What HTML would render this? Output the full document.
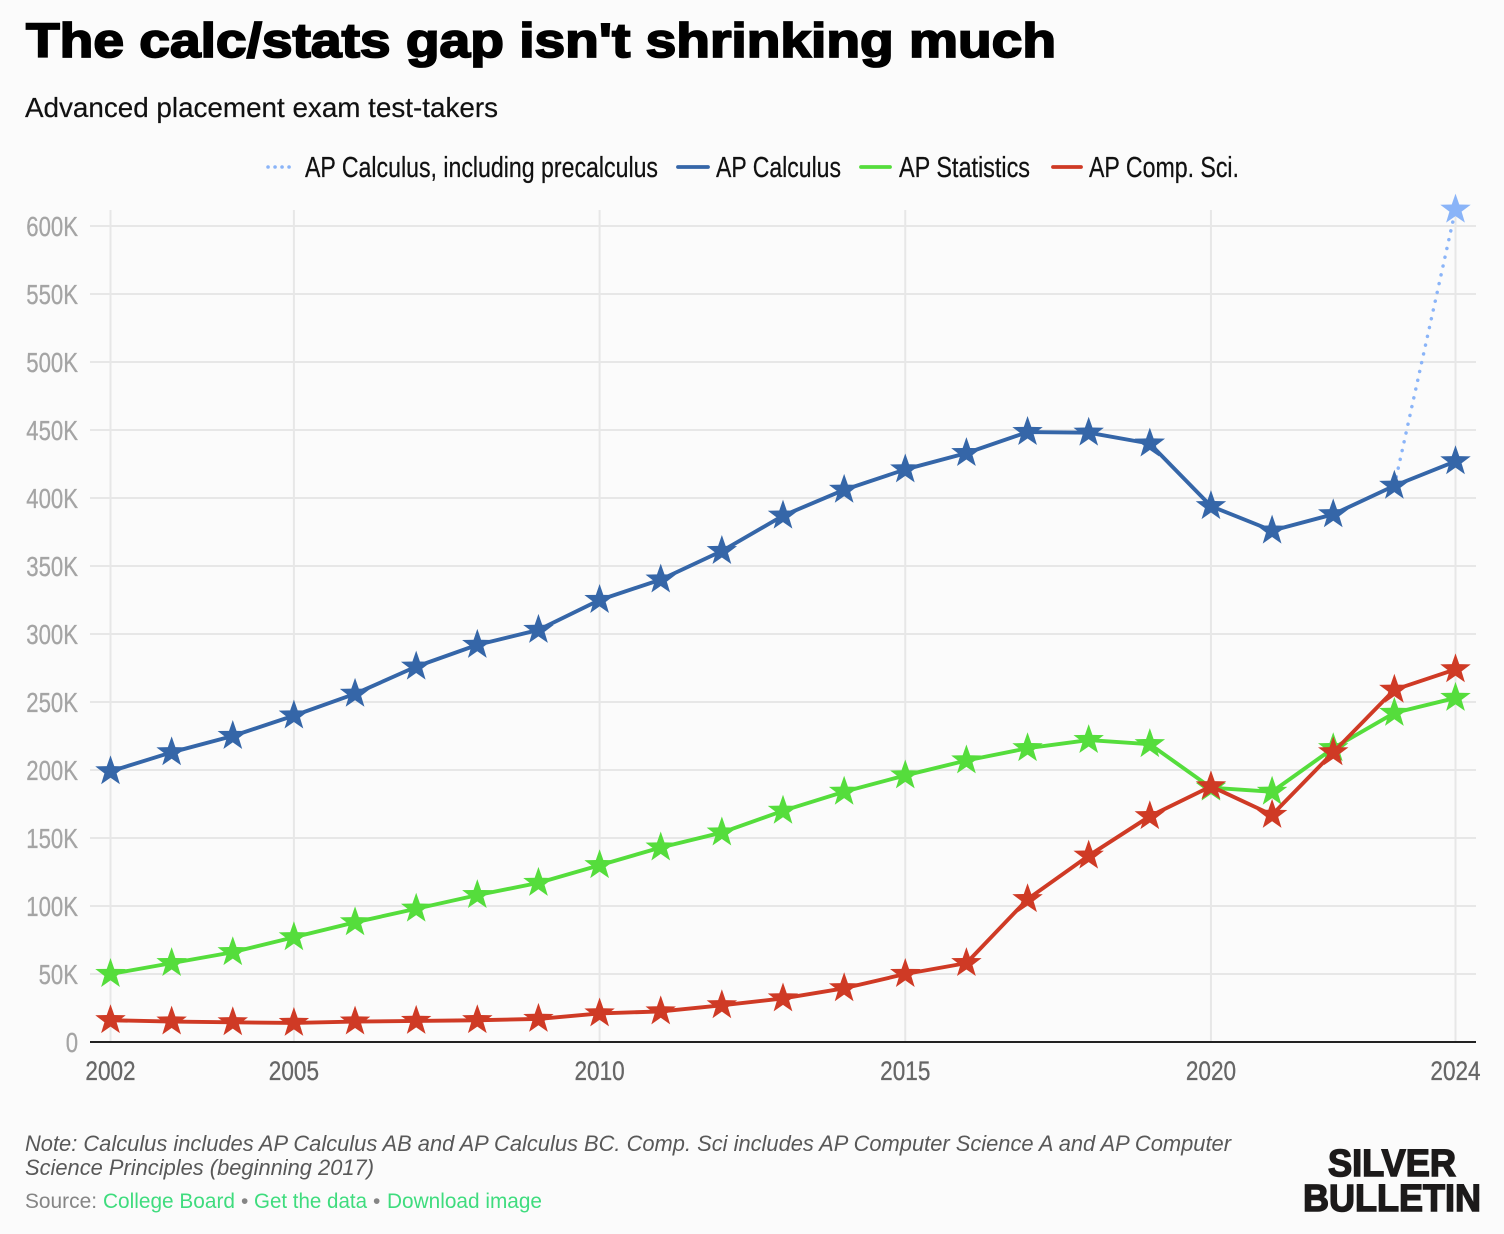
<!DOCTYPE html>
<html lang="en">
<head>
<meta charset="utf-8">
<title>The calc/stats gap isn't shrinking much</title>
<style>
html,body{margin:0;padding:0;background:#fbfbfb;width:1504px;height:1234px;overflow:hidden}
svg{display:block}
text{font-family:"Liberation Sans",sans-serif}
</style>
</head>
<body>
<svg id="chart" xmlns="http://www.w3.org/2000/svg" width="1504" height="1234" viewBox="0 0 1504 1234">
  <rect x="0" y="0" width="1504" height="1234" fill="#fbfbfb"/>
  <text x="26" y="57" font-size="48" font-weight="700" fill="#000" stroke="#000" stroke-width="1.8" textLength="1030" lengthAdjust="spacingAndGlyphs">The calc/stats gap isn't shrinking much</text>
  <text x="25" y="117" font-size="28" fill="#111" stroke="#111" stroke-width="0.2" textLength="473" lengthAdjust="spacingAndGlyphs">Advanced placement exam test-takers</text>

  <g stroke-width="0.25">
    <line x1="268" y1="167" x2="296" y2="167" stroke="#8ab4f8" stroke-width="3.5" stroke-linecap="round" stroke-dasharray="0.1 6.9"/>
    <text x="305" y="177" font-size="29" fill="#111" stroke="#111" textLength="353" lengthAdjust="spacingAndGlyphs">AP Calculus, including precalculus</text>
    <line x1="678" y1="167" x2="708" y2="167" stroke="#3566a8" stroke-width="3.8" stroke-linecap="round"/>
    <text x="716" y="177" font-size="29" fill="#111" stroke="#111" textLength="125" lengthAdjust="spacingAndGlyphs">AP Calculus</text>
    <line x1="861" y1="167" x2="890" y2="167" stroke="#55dd3c" stroke-width="3.8" stroke-linecap="round"/>
    <text x="899" y="177" font-size="29" fill="#111" stroke="#111" textLength="131" lengthAdjust="spacingAndGlyphs">AP Statistics</text>
    <line x1="1053" y1="167" x2="1081" y2="167" stroke="#cf3a25" stroke-width="3.8" stroke-linecap="round"/>
    <text x="1089" y="177" font-size="29" fill="#111" stroke="#111" textLength="150" lengthAdjust="spacingAndGlyphs">AP Comp. Sci.</text>
  </g>

  <g id="grid"></g>
  <g id="y-axis"></g>
  <g id="x-axis"></g>
  <g id="series"></g>

  <text x="25" y="1151" font-size="22" font-style="italic" fill="#585858" textLength="1206" lengthAdjust="spacingAndGlyphs">Note: Calculus includes AP Calculus AB and AP Calculus BC. Comp. Sci includes AP Computer Science A and AP Computer</text>
  <text x="25" y="1175" font-size="22" font-style="italic" fill="#585858" textLength="349" lengthAdjust="spacingAndGlyphs">Science Principles (beginning 2017)</text>

  <g font-size="21">
    <text x="25" y="1208" fill="#858585" textLength="72" lengthAdjust="spacingAndGlyphs">Source:</text>
    <text x="103" y="1208" fill="#3fdc7e" textLength="132" lengthAdjust="spacingAndGlyphs">College Board</text>
    <text x="241" y="1208" fill="#858585">•</text>
    <text x="254" y="1208" fill="#3fdc7e" textLength="113" lengthAdjust="spacingAndGlyphs">Get the data</text>
    <text x="373" y="1208" fill="#858585">•</text>
    <text x="387" y="1208" fill="#3fdc7e" textLength="155" lengthAdjust="spacingAndGlyphs">Download image</text>
  </g>

  <g fill="#1c1a1a" stroke="#1c1a1a" stroke-width="1.5" font-weight="700" font-size="38">
    <text x="1328" y="1176" textLength="128" lengthAdjust="spacingAndGlyphs">SILVER</text>
    <text x="1303" y="1211" textLength="178" lengthAdjust="spacingAndGlyphs">BULLETIN</text>
  </g>
</svg>
<script>
const years = [2002,2003,2004,2005,2006,2007,2008,2009,2010,2011,2012,2013,2014,2015,2016,2017,2018,2019,2020,2021,2022,2023,2024];
const calculus = [199,213,225,240,256,276,292,303,325,340,361,387,406,421,433,448.5,448,440,394,376,388,409,427];
const statistics = [50,58,66,77,88,98,108,117,130,143,154,170,184,196,207,216,222,219,187,184,216,242,253];
const compSci = [16,15,14.5,14,15,15.5,16,17,21,22.5,27,32,39.5,50,58,105,137,166,188,167,213,259,274];
const precalcYears = [2023,2024];
const precalcValues = [409,612];
const yTickValues = [0,50,100,150,200,250,300,350,400,450,500,550,600];
const yTickLabels = ["0","50K","100K","150K","200K","250K","300K","350K","400K","450K","500K","550K","600K"];
const xTickYears = [2002,2005,2010,2015,2020,2024];

const NS = "http://www.w3.org/2000/svg";
function xScale(year){ return 110.5 + (year - 2002) * (1455.5 - 110.5) / 22; }
function yScale(value){ return 1042 - value * 1.36; }
function make(tag, attrs, parent){
  const el = document.createElementNS(NS, tag);
  for (const k in attrs) el.setAttribute(k, attrs[k]);
  parent.appendChild(el);
  return el;
}
function starPoints(cx, cy, R, r){
  const pts = [];
  for (let i = 0; i < 10; i++){
    const a = -Math.PI / 2 + i * Math.PI / 5;
    const rad = i % 2 === 0 ? R : r;
    pts.push((cx + rad * Math.cos(a)).toFixed(2) + "," + (cy + rad * Math.sin(a)).toFixed(2));
  }
  return pts.join(" ");
}
function condense(el, ratio){
  el.setAttribute("textLength", (el.getComputedTextLength() * ratio).toFixed(1));
  el.setAttribute("lengthAdjust", "spacingAndGlyphs");
}
const grid = document.getElementById("grid");
const yAxis = document.getElementById("y-axis");
const xAxis = document.getElementById("x-axis");
const seriesRoot = document.getElementById("series");

yTickValues.forEach(function(v, i){
  if (v !== 0){
    const gl = make("line", {x1:90, x2:1476, y1:yScale(v), y2:yScale(v), stroke:"#e7e7e7", "stroke-width":2}, grid);
    
    
  }
  const t = make("text", {x:78, y:yScale(v) + 10, "text-anchor":"end", "font-size":28, fill:"#a4a4a4", stroke:"#a4a4a4", "stroke-width":0.3}, yAxis);
  t.textContent = yTickLabels[i];
  
  
  condense(t, 0.79);
});
xTickYears.forEach(function(year){
  const gl = make("line", {x1:xScale(year), x2:xScale(year), y1:210, y2:1042, stroke:"#e7e7e7", "stroke-width":2}, grid);
  
  
  const t = make("text", {x:xScale(year), y:1080, "text-anchor":"middle", "font-size":27, fill:"#666", stroke:"#666", "stroke-width":0.3}, xAxis);
  t.textContent = String(year);
  
  
  condense(t, 0.835);
});
const baseline = make("line", {x1:90, x2:1476, y1:yScale(0), y2:yScale(0), stroke:"#222", "stroke-width":2}, xAxis);



function drawSeries(name, xs, vals, color, opts){
  const g = make("g", {}, seriesRoot);
  
  
  const d = xs.map(function(y, i){ return xScale(y).toFixed(2) + "," + yScale(vals[i]).toFixed(2); }).join(" ");
  const line = make("polyline", Object.assign({points:d, fill:"none", stroke:color, "stroke-width":3.9, "stroke-linejoin":"round", "stroke-linecap":"round"}, opts.line || {}), g);
  
  
  xs.forEach(function(y, i){
    if (opts.only && opts.only.indexOf(y) < 0) return;
    const s = make("polygon", {points:starPoints(xScale(y), yScale(vals[i]), 16, 6.4), fill:color}, g);
    
    
  });
}
drawSeries("series-precalculus", precalcYears, precalcValues, "#8ab4f8", {line:{"stroke-width":3.5, "stroke-dasharray":"0.1 8.9"}, only:[2024]});
drawSeries("series-calculus", years, calculus, "#3566a8", {});
drawSeries("series-statistics", years, statistics, "#55dd3c", {});
drawSeries("series-comp-sci", years, compSci, "#cf3a25", {});
</script>
</body>
</html>
